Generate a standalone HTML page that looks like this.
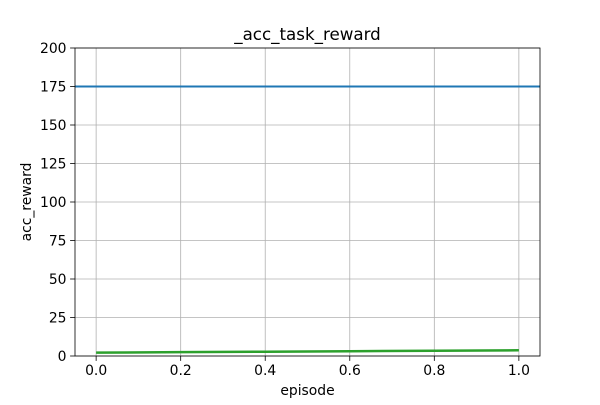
<!DOCTYPE html>
<html><head><meta charset="utf-8"><style>
html,body{margin:0;padding:0;background:#fff;}
svg text{font-family:"DejaVu Sans","Liberation Sans",sans-serif;fill:#000;}
</style></head><body>
<svg id="chart" width="600" height="400" xmlns="http://www.w3.org/2000/svg"></svg>
<script>
const xTicks = [0.0, 0.2, 0.4, 0.6, 0.8, 1.0];
const yTicks = [0, 25, 50, 75, 100, 125, 150, 175, 200];
const episodes = [0.0, 0.2, 0.4, 0.6, 0.8, 1.0];
const accReward = [2.2, 2.5, 2.8, 3.1, 3.4, 3.7];
const targetReward = 175;

const L=75,R=540,T=48,B=356;
const xMin=-0.05,xMax=1.05,yMin=0,yMax=200;
const sx=v=>L+(v-xMin)/(xMax-xMin)*(R-L);
const sy=v=>B-(v-yMin)/(yMax-yMin)*(B-T);
const svg=document.getElementById('chart');
const NS='http://www.w3.org/2000/svg';
function mk(tag,attrs,parent){const e=document.createElementNS(NS,tag);for(const k in attrs)e.setAttribute(k,attrs[k]);(parent||svg).appendChild(e);return e;}

const grid=mk('g',{});


xTicks.forEach(t=>{const x=sx(t);
  const l=mk('line',{x1:x,x2:x,y1:T,y2:B,stroke:'#b0b0b0','stroke-width':0.8},grid);
  
  
  mk('line',{x1:x,x2:x,y1:B,y2:B+4.9,stroke:'#000','stroke-width':0.8});
  const tx=mk('text',{x:x,y:B+19,'text-anchor':'middle','font-size':13.9});
  tx.textContent=t.toFixed(1);
  
  
});
yTicks.forEach(t=>{const y=sy(t);
  const l=mk('line',{x1:L,x2:R,y1:y,y2:y,stroke:'#b0b0b0','stroke-width':0.8},grid);
  
  
  mk('line',{x1:L-4.9,x2:L,y1:y,y2:y,stroke:'#000','stroke-width':0.8});
  const tx=mk('text',{x:L-8.5,y:y+5,'text-anchor':'end','font-size':13.9});
  tx.textContent=t;
  
  
});

const hl=mk('line',{x1:L,x2:R,y1:sy(targetReward),y2:sy(targetReward),stroke:'#1f77b4','stroke-width':2});



const pts=episodes.map((e,i)=>sx(e)+','+sy(accReward[i])).join(' ');
const pl=mk('polyline',{points:pts,fill:'none',stroke:'#2ca02c','stroke-width':2.5});



const fr=mk('rect',{x:L,y:T,width:R-L,height:B-T,fill:'none',stroke:'#000','stroke-width':0.8});



const title=mk('text',{x:(L+R)/2,y:T-8,'text-anchor':'middle','font-size':16.7});
title.textContent='_acc_task_reward';


const xl=mk('text',{x:(L+R)/2,y:395,'text-anchor':'middle','font-size':13.9});
xl.textContent='episode';


const yl=mk('text',{x:0,y:0,'text-anchor':'middle','font-size':13.9,transform:'translate(31,'+((T+B)/2)+') rotate(-90)'});
yl.textContent='acc_reward';


</script>
</body></html>
